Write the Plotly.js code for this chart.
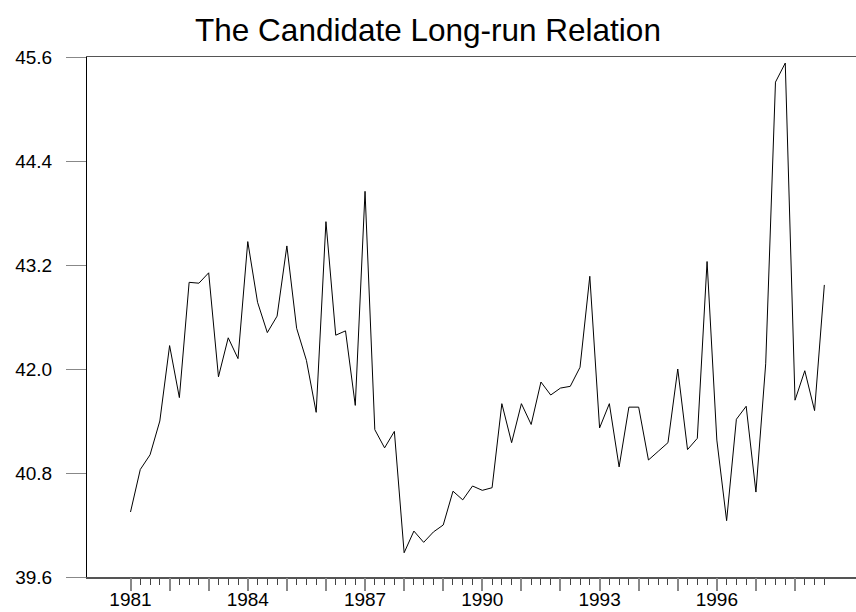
<!DOCTYPE html>
<html>
<head>
<meta charset="utf-8">
<script src="https://cdn.plot.ly/plotly-3.0.1.min.js"></script>
<style>html,body{margin:0;padding:0;background:#fff;}#chart{width:856px;height:612px;}</style>
</head>
<body>
<div id="chart"></div>
<script>
// Quarterly series, 1981Q1 .. 1998Q4
const startYear = 1981;
const values = [
  40.35, 40.84, 41.01, 41.40,  // 1981
  42.27, 41.67, 43.00, 42.99,  // 1982
  43.11, 41.91, 42.36, 42.12,  // 1983
  43.47, 42.77, 42.42, 42.61,  // 1984
  43.42, 42.47, 42.10, 41.50,  // 1985
  43.70, 42.39, 42.44, 41.58,  // 1986
  44.05, 41.30, 41.09, 41.28,  // 1987
  39.88, 40.13, 40.00, 40.12,  // 1988
  40.20, 40.59, 40.49, 40.65,  // 1989
  40.60, 40.63, 41.60, 41.15,  // 1990
  41.60, 41.36, 41.85, 41.70,  // 1991
  41.78, 41.80, 42.02, 43.07,  // 1992
  41.32, 41.60, 40.87, 41.56,  // 1993
  41.56, 40.95, 41.05, 41.15,  // 1994
  42.00, 41.07, 41.20, 43.24,  // 1995
  41.18, 40.25, 41.42, 41.57,  // 1996
  40.58, 42.06, 45.31, 45.53,  // 1997
  41.64, 41.98, 41.52, 42.97   // 1998
];
const yearTicks = [1981,1982,1983,1984,1985,1986,1987,1988,1989,1990,1991,1992,1993,1994,1995,1996,1997,1998];
const yearLabels = ["1981","","","1984","","","1987","","","1990","","","1993","","","1996","",""];
const yTicks = [39.6, 40.8, 42.0, 43.2, 44.4, 45.6];
const yLabels = ["39.6", "40.8", "42.0", "43.2", "44.4", "45.6"];

const xs = values.map((v, i) => startYear + i / 4);
const quarterTicks = xs.slice();
const xRange = [1979.887, 1999.56];
const tickFont = {family: 'Liberation Sans, Arial, sans-serif', size: 19, color: '#000'};

const trace = {
  x: xs, y: values, type: 'scatter', mode: 'lines',
  line: {color: '#000', width: 1},
  hoverinfo: 'skip'
};

const layout = {
  width: 856, height: 612,
  paper_bgcolor: '#fff', plot_bgcolor: '#fff',
  margin: {l: 87, r: 0, t: 57, b: 35, pad: 0},
  showlegend: false,
  title: {
    text: 'The Candidate Long-run Relation',
    font: {family: 'Liberation Sans, Arial, sans-serif', size: 31.5, color: '#000'},
    x: 0.5, xref: 'container', xanchor: 'center',
    y: 1 - 30/612, yref: 'container', yanchor: 'middle'
  },
  // quarterly (short) ticks + axis line + top frame line
  xaxis: {
    range: xRange,
    showgrid: false, zeroline: false,
    showline: true, linecolor: '#555', linewidth: 1.5, mirror: true,
    tickmode: 'array', tickvals: quarterTicks, ticktext: quarterTicks.map(() => ''),
    ticks: 'outside', ticklen: 6, tickwidth: 1, tickcolor: '#444',
    tickfont: tickFont,
    fixedrange: true
  },
  // yearly (long) ticks with labels every third year
  xaxis2: {
    overlaying: 'x', anchor: 'y', side: 'bottom',
    range: xRange,
    showgrid: false, zeroline: false, showline: false,
    tickmode: 'array', tickvals: yearTicks, ticktext: yearLabels,
    ticks: 'outside', ticklen: 13, tickwidth: 2, tickcolor: '#888',
    tickfont: tickFont,
    ticklabelstandoff: -8,
    fixedrange: true
  },
  yaxis: {
    range: [39.6, 45.6],
    showgrid: false, zeroline: false,
    showline: true, linecolor: '#000', linewidth: 1, mirror: false,
    tickmode: 'array', tickvals: yTicks, ticktext: yLabels,
    ticks: 'outside', ticklen: 20, tickwidth: 1, tickcolor: '#888',
    tickfont: tickFont,
    ticklabelstandoff: 10,
    fixedrange: true
  }
};

// invisible helper trace so that the yearly axis is drawn
const yearAxisTrace = {
  x: [xRange[0]], y: [null], xaxis: 'x2', yaxis: 'y', type: 'scatter', mode: 'lines',
  hoverinfo: 'skip', showlegend: false
};

Plotly.newPlot('chart', [trace, yearAxisTrace], layout, {staticPlot: true, displayModeBar: false});
</script>
</body>
</html>
